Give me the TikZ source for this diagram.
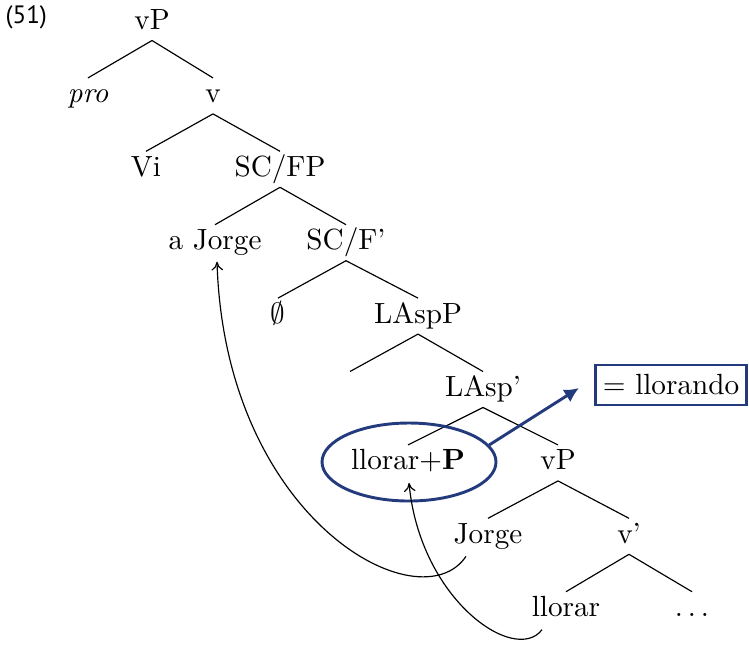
\documentclass[tikz,border=0pt]{standalone}
\usepackage{fontspec}
\newfontfamily\exfont{PT Sans}
\usetikzlibrary{arrows.meta,shapes.geometric}
\definecolor{navy}{RGB}{35,58,125}
\newcommand{\tbranch}[2]{\draw[treeline] ([shift={(0,11)}]#1.base) -- ([shift={(0,-25)}]#2.base);}
\begin{document}
\begin{tikzpicture}[x=0.3425pt,y=-0.3425pt,
  lab/.style={anchor=base,inner sep=0pt},
  treeline/.style={line width=0.4pt},
  movearrow/.style={line width=0.4pt,-{To[length=3pt,width=4pt]}},
  hl/.style={draw=navy,line width=1pt},
  hlarrow/.style={navy,line width=1pt,-{Latex[length=5pt,width=5pt]}}]
\useasboundingbox (0,0) rectangle (749,646);
\node[anchor=base west,inner sep=0pt,font=\exfont\fontsize{8.6}{10}\selectfont] (ex) at (5,23) {(51)};
\node[lab] (vP) at (152,29.5) {vP};
\node[lab] (pro) at (88,102.9) {\textit{pro}};
\node[lab] (v) at (213,102.9) {v};
\node[lab] (Vi) at (146,176.3) {Vi};
\node[lab] (SCFP) at (280,176.3) {SC/FP};
\node[lab] (aJorge) at (215,249.7) {a Jorge};
\node[lab] (SCF) at (346,249.7) {SC/F'};
\node[lab] (empty) at (278,323.1) {$\emptyset$};
\node[lab] (LAspP) at (418,323.1) {LAspP};
\node[lab] (blank) at (350,396.5) {};
\node[lab] (LAsp) at (483,396.5) {LAsp'};
\node[lab] (llorarP) at (408,469.9) {llorar$+$\textbf{P}};
\node[lab] (vP2) at (558,469.9) {vP};
\node[lab] (Jorge) at (488,543.3) {Jorge};
\node[lab] (vbar) at (629,543.3) {v'};
\node[lab] (llorar) at (566,616.7) {llorar};
\node[lab] (dots) at (692,616.7) {$\ldots$};
\tbranch{vP}{pro}
\tbranch{vP}{v}
\tbranch{v}{Vi}
\tbranch{v}{SCFP}
\tbranch{SCFP}{aJorge}
\tbranch{SCFP}{SCF}
\tbranch{SCF}{empty}
\tbranch{SCF}{LAspP}
\tbranch{LAspP}{blank}
\tbranch{LAspP}{LAsp}
\tbranch{LAsp}{llorarP}
\tbranch{LAsp}{vP2}
\tbranch{vP2}{Jorge}
\tbranch{vP2}{vbar}
\tbranch{vbar}{llorar}
\tbranch{vbar}{dots}
\node[ellipse,hl,minimum width=174*0.3425pt,minimum height=78*0.3425pt,inner sep=0pt] (ell) at (409,462) {};
\node[draw=navy,line width=0.7pt,inner sep=0pt,minimum width=151*0.3425pt,minimum height=40*0.3425pt] (box) at (671,385) {$=$ llorando};
\coordinate (tip) at (579,388);
\draw[hlarrow] (ell.12) -- (tip);
\draw[movearrow] ([shift={(-22,13)}]Jorge.base) .. controls (420,625) and (225,520) .. ([shift={(2,12)}]aJorge.base);
\draw[movearrow] ([shift={(-24,13)}]llorar.base) .. controls (515,665) and (420,600) .. ([shift={(1,13)}]llorarP.base);
\end{tikzpicture}
\end{document}
